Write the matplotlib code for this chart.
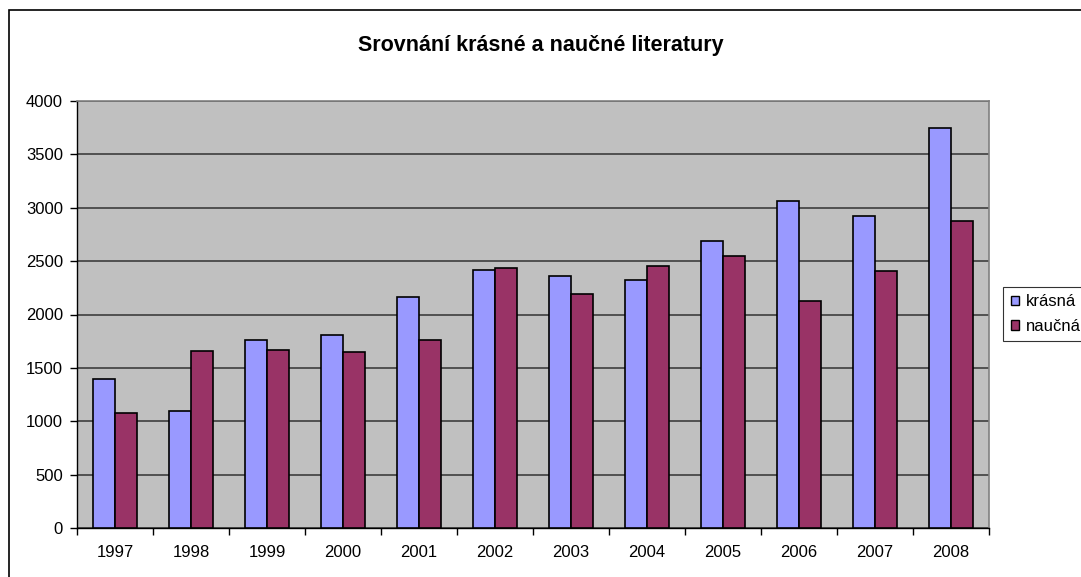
import numpy as np
import matplotlib.pyplot as plt
from matplotlib.patches import Rectangle, Patch

plt.rcParams['font.family'] = ['Liberation Sans', 'DejaVu Sans']

# ----- data -----
years = ['1997', '1998', '1999', '2000', '2001', '2002',
         '2003', '2004', '2005', '2006', '2007', '2008']
krasna = [1400, 1100, 1762, 1809, 2165, 2415, 2365, 2327, 2688, 3061, 2925, 3748]
naucna = [1075, 1660, 1669, 1650, 1762, 2440, 2190, 2455, 2552, 2122, 2403, 2875]

W, H = 1081, 577
fig = plt.figure(figsize=(W / 100, H / 100), dpi=100)
fig.patch.set_facecolor('white')

# outer chart frame (runs off the right/bottom edge)
fig.patches.append(Rectangle((9 / W, -0.05), 1.2, 1 - 10 / H + 0.05,
                             transform=fig.transFigure, fill=False,
                             edgecolor='black', linewidth=1.2, zorder=0))

ax = fig.add_axes([77 / W, 1 - 528 / H, (989 - 77) / W, (528 - 101) / H])
ax.set_facecolor('#C0C0C0')

x = np.arange(len(years))
bw = 1 / 3.5
ax.bar(x - bw / 2, krasna, bw, color='#9999FF', edgecolor='black', linewidth=1.2,
       label='krásná', zorder=3)
ax.bar(x + bw / 2, naucna, bw, color='#993366', edgecolor='black', linewidth=1.2,
       label='naučná', zorder=3)

ax.set_xlim(-0.5, len(years) - 0.5)
ax.set_ylim(0, 4000)
ax.set_yticks(np.arange(0, 4001, 500))
ax.yaxis.grid(True, color='#333333', linewidth=1.1, zorder=1)
ax.set_axisbelow(True)

# labels centred under groups, tick marks at group boundaries
ax.set_xticks(x)
ax.set_xticklabels(years)
ax.set_xticks(np.arange(-0.5, len(years), 1), minor=True)
ax.tick_params(axis='x', which='major', length=0, pad=12, labelsize=12)
ax.tick_params(axis='x', which='minor', length=5, width=1, direction='out', color='black')
ax.tick_params(axis='y', length=5, width=1, direction='out', labelsize=12, pad=5)

for s in ['top', 'right']:
    ax.spines[s].set_color('#808080')
    ax.spines[s].set_linewidth(1.2)
for s in ['left', 'bottom']:
    ax.spines[s].set_color('black')
    ax.spines[s].set_linewidth(1)

fig.text(0.5, 1 - 45 / H, 'Srovnání krásné a naučné literatury', ha='center', va='center',
         fontsize=15.5, fontweight='bold')

handles = [Patch(facecolor='#9999FF', edgecolor='black'),
           Patch(facecolor='#993366', edgecolor='black')]
leg = fig.legend(handles, ['krásná', 'naučná'], loc='upper left',
                 bbox_to_anchor=(1003 / W, 1 - 287 / H), fontsize=12,
                 frameon=True, fancybox=False, edgecolor='black',
                 handlelength=0.5, handleheight=0.5, handletextpad=0.4,
                 borderpad=0.45, labelspacing=0.55, borderaxespad=0)
leg.get_frame().set_linewidth(0.8)

fig.savefig('out.png', dpi=100)
